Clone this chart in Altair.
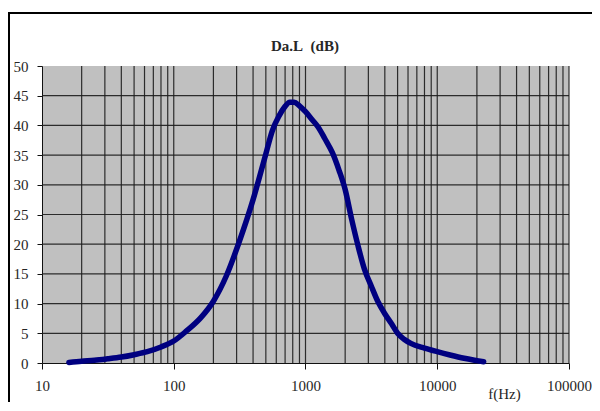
import altair as alt
import pandas as pd

# ---- data ----
freq = [16, 20, 25, 31.5, 40, 50, 63, 80, 100, 125, 160, 200, 250, 315, 400, 500,
        560, 630, 700, 760, 820, 900, 1000, 1120, 1250, 1400, 1600, 1800, 2000,
        2240, 2500, 2800, 3150, 3550, 4000, 4500, 5000, 5600, 6300, 8000, 10000,
        12500, 16000, 20000, 22500]
level = [0.1, 0.3, 0.45, 0.7, 1.0, 1.4, 1.9, 2.7, 3.7, 5.4, 7.6, 10.4, 14.6, 20.5,
         27.5, 35.2, 39.1, 41.6, 43.2, 43.9, 43.9, 43.3, 42.3, 41.0, 39.7, 37.8,
         35.4, 32.4, 29.2, 24.2, 19.8, 15.8, 13.0, 10.3, 8.3, 6.6, 5.0, 4.0, 3.3,
         2.5, 1.9, 1.35, 0.8, 0.4, 0.2]

x_ticks = [10, 100, 1000, 10000, 100000]
y_ticks = [0, 5, 10, 15, 20, 25, 30, 35, 40, 45, 50]
h_grid = [5, 10, 15, 20, 25, 30, 35, 40, 45]
v_grid = [20, 30, 40, 50, 60, 70, 80, 90,
          100, 200, 300, 400, 500, 600, 700, 800, 900,
          1000, 2000, 3000, 4000, 5000, 6000, 7000, 8000, 9000,
          10000, 20000, 30000, 40000, 50000, 60000, 70000, 80000, 90000, 100000]

title_text = "Da.L\u00a0\u00a0(dB)"
x_title = "f(Hz)"

W, H = 527, 297
SERIF = "Liberation Serif"
GRID = "#1c1c1c"
TXT = "#262626"

xs = alt.Scale(type="log", domain=[10, 100000])
ys = alt.Scale(domain=[0, 50], nice=False)

x_axis = alt.Axis(values=x_ticks, format="d", grid=False,
                  labelFont=SERIF, labelFontSize=15, labelColor=TXT,
                  labelPadding=9, tickSize=6, tickColor="#111111",
                  domainColor="#111111", labelFlush=False,
                  title=x_title, titleFont=SERIF, titleFontSize=15,
                  titleFontWeight="normal", titleColor=TXT,
                  titleX=462, titleY=30, titleBaseline="middle")
y_axis = alt.Axis(values=y_ticks, grid=False, title=None,
                  labelFont=SERIF, labelFontSize=15, labelColor=TXT,
                  labelPadding=9, tickSize=5, tickColor="#111111",
                  domainColor="#111111")

vrules = alt.Chart(pd.DataFrame({"f": v_grid})).mark_rule(
    color=GRID, strokeWidth=1.2, opacity=0.9
).encode(x=alt.X("f:Q", scale=xs, axis=x_axis))

hrules = alt.Chart(pd.DataFrame({"L": h_grid})).mark_rule(
    color=GRID, strokeWidth=1.2, opacity=0.9
).encode(y=alt.Y("L:Q", scale=ys, axis=y_axis))

curve = alt.Chart(pd.DataFrame({"f": freq, "L": level})).mark_line(
    color="#000080", strokeWidth=5.5, strokeCap="round", strokeJoin="round",
    interpolate="monotone"
).encode(
    x=alt.X("f:Q", scale=xs, axis=x_axis),
    y=alt.Y("L:Q", scale=ys, axis=y_axis),
)

one = pd.DataFrame({"a": [0]})
title_mark = alt.Chart(one).mark_text(
    text=title_text, font=SERIF, fontWeight="bold", fontSize=15, color=TXT,
    align="center", baseline="alphabetic"
).encode(x=alt.value(263), y=alt.value(-15))

frame_left = alt.Chart(one).mark_rule(color="#000000", strokeWidth=2).encode(
    x=alt.value(-33), y=alt.value(-54), y2=alt.value(400))
frame_top = alt.Chart(one).mark_rule(color="#000000", strokeWidth=2).encode(
    y=alt.value(-53), x=alt.value(-34), x2=alt.value(600))

chart = alt.layer(vrules, hrules, curve, title_mark, frame_left, frame_top).properties(
    width=W, height=H,
    padding={"left": 34, "top": 58, "right": 23, "bottom": 39},
    autosize=alt.AutoSizeParams(type="none"),
    background="white",
).configure_view(fill="#c0c0c0", stroke=None)

chart.save("out.html", embed_options={"renderer": "svg", "actions": False})
